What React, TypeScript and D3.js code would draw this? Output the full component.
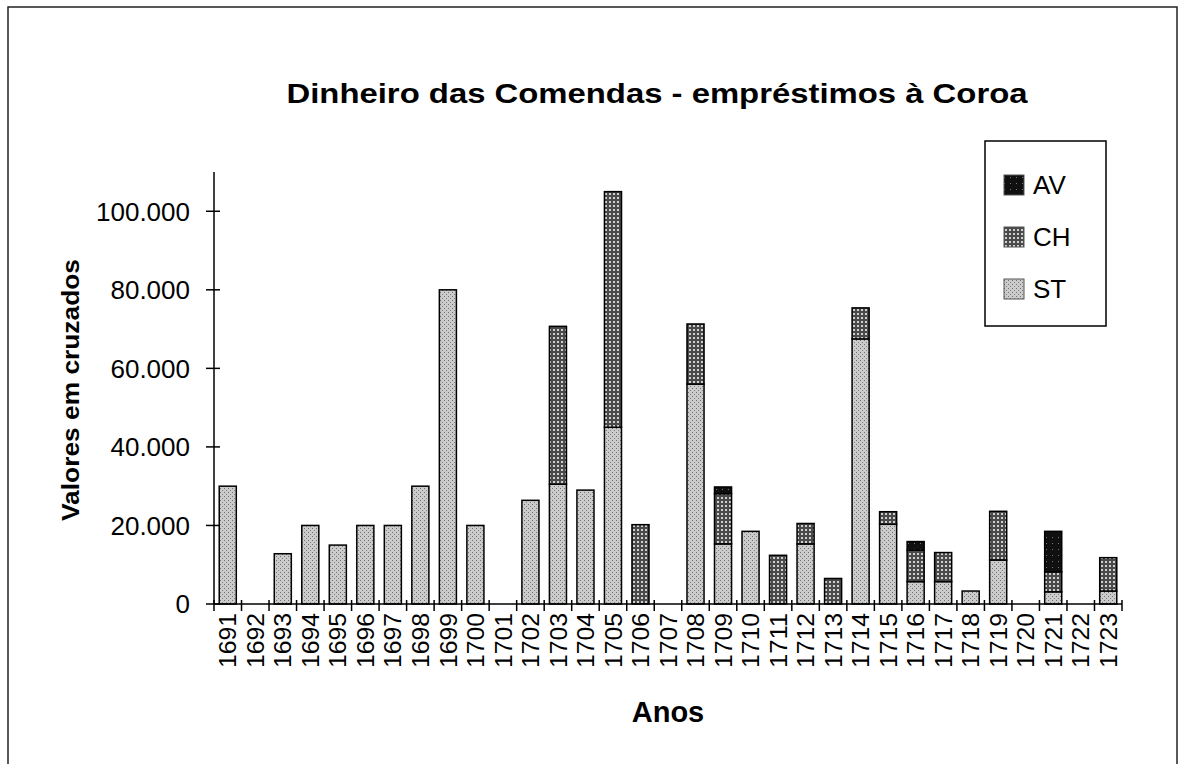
import React from "react";
import * as d3 from "d3";

const years = ["1691","1692","1693","1694","1695","1696","1697","1698","1699","1700","1701","1702","1703","1704","1705","1706","1707","1708","1709","1710","1711","1712","1713","1714","1715","1716","1717","1718","1719","1720","1721","1722","1723"];
const ST = [30000,0,12800,20000,15000,20000,20000,30000,80000,20000,0,26400,30500,29000,45000,0,0,56000,15300,18500,0,15300,0,67500,20300,5700,5700,3300,11200,0,3100,0,3300];
const CH = [0,0,0,0,0,0,0,0,0,0,0,0,40200,0,60000,20200,0,15300,12800,0,12400,5200,6500,7900,3200,8000,7400,0,12400,0,5100,0,8500];
const AV = [0,0,0,0,0,0,0,0,0,0,0,0,0,0,0,0,0,0,1700,0,0,0,0,0,0,2200,0,0,0,0,10300,0,0];
const yTicks = [0, 20000, 40000, 60000, 80000, 100000];
const seriesNames = ["ST", "CH", "AV"];
const legendOrder = ["AV", "CH", "ST"];

const W = 1184, H = 764;
const plot = { left: 214, right: 1122, top: 172, bottom: 604 };

export default function App() {
  const x = d3.scaleBand<string>().domain(years).range([plot.left, plot.right]).paddingInner(0.38).paddingOuter(0.19);
  const y = d3.scaleLinear().domain([0, 110000]).range([plot.bottom, plot.top]);
  const rows = years.map((yr, i) => ({ year: yr, ST: ST[i], CH: CH[i], AV: AV[i] }));
  const stack = d3.stack<any>().keys(seriesNames)(rows);
  const step = x.step();
  const fmt = (v: number) => (v === 0 ? "0" : d3.format(",")(v).replace(/,/g, "."));
  const font = "'Liberation Sans', Arial, sans-serif";
  const fills: Record<string, string> = { ST: "url(#pST)", CH: "url(#pCH)", AV: "url(#pAV)" };
  const boundaries = d3.range(years.length + 1).map((i) => plot.left + i * step);

  return (
    <svg width={W} height={H} style={{ position: "absolute", left: 0, top: 0, background: "#fff" }} fontFamily={font}>
      <defs>
        <pattern id="pST" width="4" height="4" patternUnits="userSpaceOnUse">
          <rect width="4" height="4" fill="#cbcbcb" />
          <rect x="0" y="0" width="1" height="1" fill="#707070" />
          <rect x="2" y="2" width="1" height="1" fill="#808080" />
        </pattern>
        <pattern id="pCH" width="4" height="4" patternUnits="userSpaceOnUse">
          <rect width="4" height="4" fill="#4a4a4a" />
          <rect x="1" y="1" width="2" height="2" fill="#cfcfcf" />
        </pattern>
        <pattern id="pAV" width="6" height="6" patternUnits="userSpaceOnUse">
          <rect width="6" height="6" fill="#101010" />
          <rect x="2" y="3" width="1" height="1" fill="#777" />
        </pattern>
      </defs>
      <rect x={0} y={0} width={W} height={H} fill="#fff" />
      <rect x={8} y={7} width={1169} height={790} fill="none" stroke="#222" strokeWidth={1.5} />

      <text x={657} y={103} textAnchor="middle" fontSize={27} fontWeight="bold" textLength={741} lengthAdjust="spacingAndGlyphs">
        Dinheiro das Comendas - empréstimos à Coroa
      </text>

      {stack.map((layer) => (
        <g key={layer.key} fill={fills[layer.key]} stroke="#000" strokeWidth={1.5}>
          {layer.map((d: any, i: number) =>
            d[1] - d[0] > 0 ? (
              <rect key={i} x={x(years[i])} y={y(d[1])} width={x.bandwidth()} height={y(d[0]) - y(d[1])} />
            ) : null
          )}
        </g>
      ))}

      <line x1={plot.left} x2={plot.left} y1={plot.top} y2={plot.bottom} stroke="#000" strokeWidth={1.5} />
      <line x1={plot.left} x2={plot.right} y1={plot.bottom} y2={plot.bottom} stroke="#000" strokeWidth={1.5} />
      {yTicks.map((t) => (
        <g key={t}>
          <line x1={plot.left - 8} x2={plot.left + 6} y1={y(t)} y2={y(t)} stroke="#000" strokeWidth={1.5} />
          <text x={190} y={y(t)} dy="0.36em" textAnchor="end" fontSize={26}>{fmt(t)}</text>
        </g>
      ))}
      {boundaries.map((b, i) => (
        <line key={i} x1={b} x2={b} y1={plot.bottom - 4} y2={plot.bottom + 7} stroke="#000" strokeWidth={1.5} />
      ))}
      {years.map((yr) => {
        const cx = (x(yr) as number) + x.bandwidth() / 2;
        const ty = 613;
        return (
          <text key={yr} x={cx} y={ty} transform={`rotate(-90 ${cx} ${ty})`} textAnchor="end" dy="0.36em" fontSize={24} textLength={55} lengthAdjust="spacingAndGlyphs">
            {yr}
          </text>
        );
      })}

      <text x={668} y={712} dy="0.36em" textAnchor="middle" fontSize={29} fontWeight="bold">Anos</text>
      <text x={71} y={390} transform="rotate(-90 71 390)" dy="0.36em" textAnchor="middle" fontSize={23} fontWeight="bold" textLength={262} lengthAdjust="spacingAndGlyphs">
        Valores em cruzados
      </text>

      <rect x={985} y={141} width={121} height={185} fill="#fff" stroke="#000" strokeWidth={1.5} />
      {legendOrder.map((k, i) => {
        const cy = 185 + i * 52;
        return (
          <g key={k}>
            <rect x={1004} y={cy - 10} width={20} height={20} fill={fills[k]} stroke="#555" strokeWidth={1} />
            <text x={1033} y={cy} dy="0.36em" fontSize={26}>{k}</text>
          </g>
        );
      })}
    </svg>
  );
}
